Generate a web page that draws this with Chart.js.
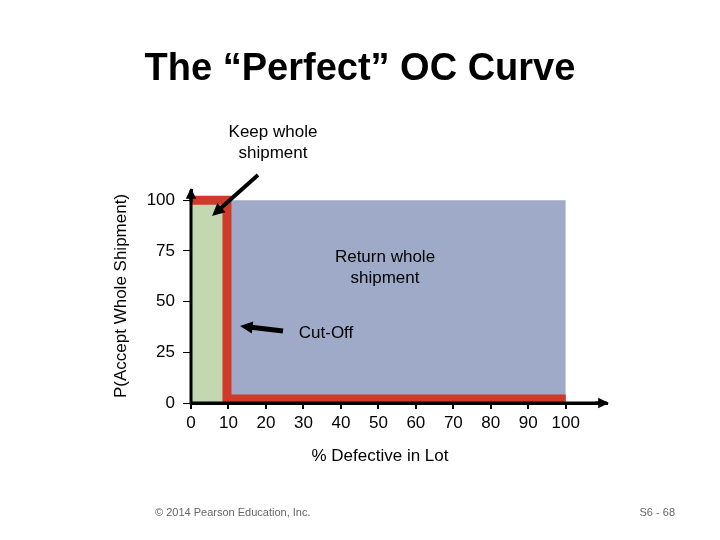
<!DOCTYPE html>
<html>
<head>
<meta charset="utf-8">
<script src="https://cdn.jsdelivr.net/npm/chart.js@4"></script>
<style>
  body { margin: 0; background: #fff; }
  #wrap { width: 720px; height: 540px; }
</style>
</head>
<body>
<div id="wrap"><canvas id="oc"></canvas></div>
<script>
// Data
const acceptX = [0, 9.6];
const acceptY = [100, 100];
const returnX = [9.6, 100];
const returnY = [100, 100];
const curveX = [0, 9.6, 9.6, 100];
const curveY = [100, 100, 2, 2];
const xTicks = [0, 10, 20, 30, 40, 50, 60, 70, 80, 90, 100];
const yTicks = [0, 25, 50, 75, 100];

const pts = (xs, ys) => xs.map((x, i) => ({ x: x, y: ys[i] }));
const FONT = 'Liberation Sans, Arial, sans-serif';

function arrow(ctx, x1, y1, x2, y2, w, head) {
  const a = Math.atan2(y2 - y1, x2 - x1);
  ctx.save();
  ctx.strokeStyle = '#000';
  ctx.fillStyle = '#000';
  ctx.lineWidth = w;
  ctx.beginPath();
  ctx.moveTo(x1, y1);
  ctx.lineTo(x2 - Math.cos(a) * head * 0.8, y2 - Math.sin(a) * head * 0.8);
  ctx.stroke();
  ctx.beginPath();
  ctx.moveTo(x2, y2);
  ctx.lineTo(x2 - head * Math.cos(a - 0.45), y2 - head * Math.sin(a - 0.45));
  ctx.lineTo(x2 - head * Math.cos(a + 0.45), y2 - head * Math.sin(a + 0.45));
  ctx.closePath();
  ctx.fill();
  ctx.restore();
}

// Titles, notes and arrows drawn on top
const decor = {
  id: 'decor',
  afterDraw(chart) {
    const ctx = chart.ctx;
    const xs = chart.scales.x, ys = chart.scales.y;
    const x0 = xs.getPixelForValue(0), y0 = ys.getPixelForValue(0);
    ctx.save();
    ctx.fillStyle = '#000';
    ctx.textAlign = 'center';
    ctx.textBaseline = 'middle';
    ctx.font = 'bold 38px ' + FONT;
    ctx.fillText('The \u201CPerfect\u201D OC Curve', 360, 70);
    ctx.font = '17px ' + FONT;
    ctx.fillText('Keep whole', 273, 132);
    ctx.fillText('shipment', 273, 153);
    ctx.fillText('Return whole', 385, 257);
    ctx.fillText('shipment', 385, 278);
    ctx.fillText('Cut-Off', 326, 333);
    ctx.fillText('% Defective in Lot', 380, 456);
    ctx.save();
    ctx.translate(121, 296);
    ctx.rotate(-Math.PI / 2);
    ctx.fillText('P(Accept Whole Shipment)', 0, 0);
    ctx.restore();
    ctx.font = '11px ' + FONT;
    ctx.fillStyle = '#666';
    ctx.textAlign = 'left';
    ctx.fillText('\u00A9 2014 Pearson Education, Inc.', 155, 513);
    ctx.textAlign = 'right';
    ctx.fillText('S6 - 68', 675, 513);
    ctx.restore();
    // axis lines and arrow heads
    ctx.save();
    ctx.strokeStyle = '#000';
    ctx.lineWidth = 3;
    ctx.beginPath();
    ctx.moveTo(x0, ys.top);
    ctx.lineTo(x0, y0);
    ctx.lineTo(xs.right, y0);
    ctx.stroke();
    ctx.restore();
    arrow(ctx, xs.right - 12, y0, xs.right + 2, y0, 3, 12);
    arrow(ctx, x0, ys.top + 12, x0, ys.top - 2, 3, 12);
    // note arrows
    arrow(ctx, 258, 175, 212, 216, 4, 14);
    arrow(ctx, 283, 331, 240, 326, 5, 14);
  }
};

new Chart(document.getElementById('oc'), {
  type: 'line',
  data: {
    datasets: [{
      data: pts(acceptX, acceptY),
      borderWidth: 0,
      backgroundColor: '#c3d7b1',
      fill: 'origin',
      pointRadius: 0,
      order: 2
    }, {
      data: pts(returnX, returnY),
      borderWidth: 0,
      backgroundColor: '#9eaac7',
      fill: 'origin',
      pointRadius: 0,
      order: 2
    }, {
      data: pts(curveX, curveY),
      borderColor: '#d03a2a',
      borderWidth: 9,
      fill: false,
      pointRadius: 0,
      borderCapStyle: 'butt',
      borderJoinStyle: 'miter',
      clip: false,
      order: 0
    }]
  },
  options: {
    responsive: true,
    maintainAspectRatio: false,
    animation: false,
    layout: { padding: { top: 190, right: 113, left: 0, bottom: 0 } },
    plugins: { legend: { display: false }, tooltip: { enabled: false } },
    scales: {
      x: {
        type: 'linear',
        min: 0,
        max: 111,
        afterBuildTicks: s => { s.ticks = xTicks.map(v => ({ value: v })); },
        afterFit: s => { s.height = 137; },
        ticks: { color: '#000', font: { family: FONT, size: 17 }, padding: 4 },
        grid: { drawOnChartArea: false, drawTicks: true, tickLength: 6, color: '#000', lineWidth: 2 },
        border: { color: '#000', width: 3 }
      },
      y: {
        min: 0,
        max: 105,
        afterBuildTicks: s => { s.ticks = yTicks.map(v => ({ value: v })); },
        afterFit: s => { s.width = 191; },
        ticks: { color: '#000', font: { family: FONT, size: 17 }, padding: 8 },
        grid: { drawOnChartArea: false, drawTicks: true, tickLength: 8, color: '#000', lineWidth: 1 },
        border: { color: '#000', width: 3 }
      }
    }
  },
  plugins: [decor]
});
</script>
</body>
</html>
